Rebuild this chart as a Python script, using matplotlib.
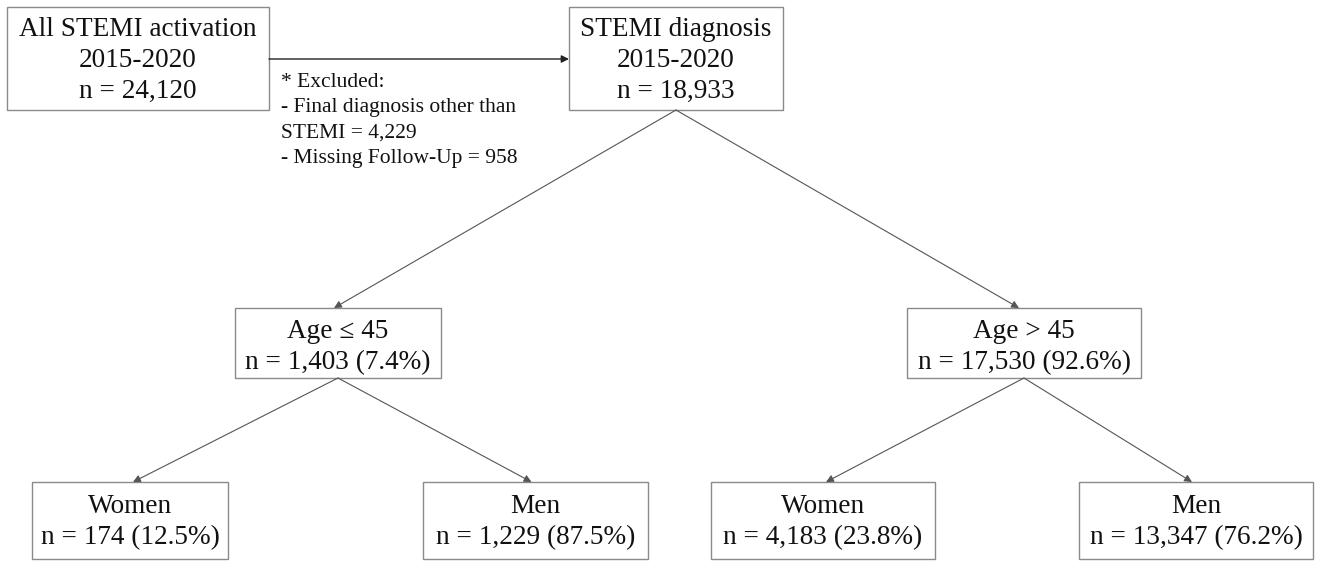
import matplotlib
matplotlib.use('Agg')
import matplotlib.pyplot as plt
from matplotlib.patches import Rectangle

plt.rcParams['font.family'] = ['Liberation Serif', 'DejaVu Serif']

# data
period = '2015-2020'
n_activation = 24120
n_other_dx = 4229
n_missing_fu = 958
n_stemi = 18933
age_groups = ['Age \u2264 45', 'Age > 45']
age_n = [1403, 17530]
age_pct = [7.4, 92.6]
sex_labels = ['Women', 'Men']
sex_n = [[174, 1229], [4183, 13347]]
sex_pct = [[12.5, 87.5], [23.8, 76.2]]

# layout in pixels (x0, y0, x1, y1), y going down
W, H = 1318, 563
box_top = [(7, 7, 269, 110), (569, 7, 783, 110)]
box_age = [(235, 308, 441, 378), (907, 308, 1141, 378)]
box_sex = [[(32, 482, 228, 559), (423, 482, 648, 559)],
           [(711, 482, 935, 559), (1079, 482, 1313, 559)]]

fig = plt.figure(figsize=(W / 100, H / 100), dpi=100)
ax = fig.add_axes([0, 0, 1, 1])
ax.set_xlim(0, W)
ax.set_ylim(H, 0)
ax.axis('off')

edge = '#8a8a8a'
line_c = '#555555'


def draw_box(b, text, fs=19.6, dy=3):
    x0, y0, x1, y1 = b
    ax.add_patch(Rectangle((x0, y0), x1 - x0, y1 - y0, fill=False,
                           ec=edge, lw=1.0))
    ax.text((x0 + x1) / 2, (y0 + y1) / 2 + dy, text, ha='center', va='center',
            fontsize=fs, linespacing=1.3, color='#111111')


def arrow(p0, p1, color=line_c, lw=0.8):
    ax.annotate('', xy=p1, xytext=p0,
                arrowprops=dict(arrowstyle='-|>', color=color, lw=lw,
                                mutation_scale=11, shrinkA=0, shrinkB=0))


def bot(b):
    return ((b[0] + b[2]) / 2, b[3])


def top(b, dx=0):
    return ((b[0] + b[2]) / 2 + dx, b[1])


draw_box(box_top[0], 'All STEMI activation\n%s\nn = %s' % (period, f'{n_activation:,}'), dy=2)
draw_box(box_top[1], 'STEMI diagnosis\n%s\nn = %s' % (period, f'{n_stemi:,}'), dy=2)

# horizontal arrow with exclusions
y_mid = 59
arrow((box_top[0][2], y_mid), (box_top[1][0], y_mid), color='#222222', lw=1.0)
ax.text(281, 73, '* Excluded:\n- Final diagnosis other than\nSTEMI = %s\n- Missing Follow-Up = %s'
        % (f'{n_other_dx:,}', f'{n_missing_fu:,}'),
        ha='left', va='top', fontsize=15.5, linespacing=1.45, color='#111111')

for i, g in enumerate(age_groups):
    draw_box(box_age[i], '%s\nn = %s (%.1f%%)' % (g, f'{age_n[i]:,}', age_pct[i]), dy=4)
    arrow(bot(box_top[1]), top(box_age[i], -4 if i == 0 else -5))
    for j, s in enumerate(sex_labels):
        b = box_sex[i][j]
        draw_box(b, '%s\nn = %s (%.1f%%)' % (s, f'{sex_n[i][j]:,}', sex_pct[i][j]), dy=1.5)
        arrow(bot(box_age[i]), top(b, 3 if j == 0 else -4))

fig.savefig('out.png', dpi=100)
